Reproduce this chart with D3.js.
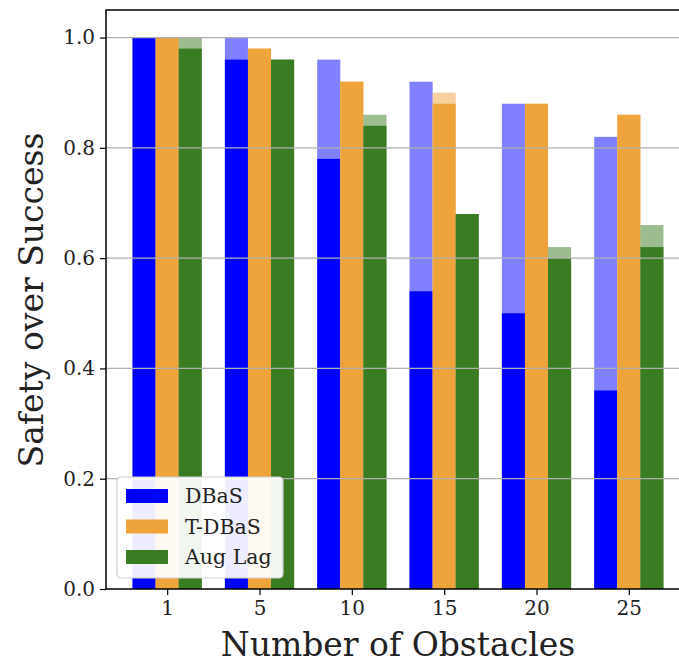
<!DOCTYPE html>
<html>
<head>
<meta charset="utf-8">
<script src="https://cdn.jsdelivr.net/npm/d3@7"></script>
<style>
  body { margin: 0; background: #fff; }
  svg { display: block; font-family: 'DejaVu Serif', serif; }
</style>
</head>
<body>
<svg width="679" height="663"></svg>
<script>
const obstacles = ['1', '5', '10', '15', '20', '25'];
const seriesNames = ['DBaS', 'T-DBaS', 'Aug Lag'];
const seriesColors = ['#0000ff', '#efa43b', '#3a7c22'];
// solid bars (safety) and faded bars (success) per series
const dbasSafe = [1.0, 0.96, 0.78, 0.54, 0.50, 0.36];
const dbasSucc = [1.0, 1.0, 0.96, 0.92, 0.88, 0.82];
const tdbasSafe = [1.0, 0.98, 0.92, 0.88, 0.88, 0.86];
const tdbasSucc = [1.0, 0.98, 0.92, 0.90, 0.88, 0.86];
const augSafe = [0.98, 0.96, 0.84, 0.68, 0.60, 0.62];
const augSucc = [1.0, 0.96, 0.86, 0.68, 0.62, 0.66];
const yTicks = [0.0, 0.2, 0.4, 0.6, 0.8, 1.0];

const safe = [dbasSafe, tdbasSafe, augSafe];
const succ = [dbasSucc, tdbasSucc, augSucc];

const svg = d3.select('svg');
const margin = { left: 106, top: 10, bottom: 589 };
const plotRight = 690; // right spine falls just outside the frame

const x = d3.scaleLinear().domain([-0.6625, 5.6625]).range([margin.left, plotRight]);
const y = d3.scaleLinear().domain([0, 1.05]).range([margin.bottom, margin.top]);
const barW = 0.25;

// bars
const g = svg.append('g');
seriesNames.forEach((name, s) => {
    const off = (s - 1) * barW;
    g.selectAll('rect.succ' + s)
        .data(succ[s])
        .join('rect')
        .attr('x', (d, i) => x(i + off - barW / 2))
        .attr('width', x(barW) - x(0))
        .attr('y', d => y(d))
        .attr('height', d => y(0) - y(d))
        .attr('fill', seriesColors[s])
        .attr('opacity', 0.5);
    g.selectAll('rect.safe' + s)
        .data(safe[s])
        .join('rect')
        .attr('x', (d, i) => x(i + off - barW / 2))
        .attr('width', x(barW) - x(0))
        .attr('y', d => y(d))
        .attr('height', d => y(0) - y(d))
        .attr('fill', seriesColors[s]);
});

// grid lines on top of bars
svg.append('g')
    .selectAll('line')
    .data(yTicks.filter(t => t > 0))
    .join('line')
    .attr('x1', margin.left)
    .attr('x2', plotRight)
    .attr('y1', d => y(d))
    .attr('y2', d => y(d))
    .attr('stroke', '#b0b0b0')
    .attr('stroke-width', 1.2);

// axes
const yAxis = svg.append('g')
    .attr('transform', `translate(${margin.left},0)`)
    .call(d3.axisLeft(y).tickValues(yTicks).tickFormat(d3.format('.1f')).tickSize(6).tickPadding(5));
const xAxis = svg.append('g')
    .attr('transform', `translate(0,${margin.bottom})`)
    .call(d3.axisBottom(x).tickValues(d3.range(obstacles.length)).tickFormat(i => obstacles[i]).tickSize(6).tickPadding(6));
[xAxis, yAxis].forEach(a => {
    a.select('.domain').remove();
    a.selectAll('text').attr('font-family', 'DejaVu Serif').attr('font-size', 20).attr('fill', '#222');
    a.selectAll('line').attr('stroke', '#000').attr('stroke-width', 1.2);
});

// spines
svg.append('rect')
    .attr('x', margin.left)
    .attr('y', margin.top)
    .attr('width', plotRight - margin.left)
    .attr('height', margin.bottom - margin.top)
    .attr('fill', 'none')
    .attr('stroke', '#000')
    .attr('stroke-width', 1.5);

// axis labels
svg.append('text')
    .attr('x', 398)
    .attr('y', 656)
    .attr('text-anchor', 'middle')
    .attr('font-size', 33)
    .attr('fill', '#222')
    .text('Number of Obstacles');
svg.append('text')
    .attr('transform', 'translate(43,300) rotate(-90)')
    .attr('text-anchor', 'middle')
    .attr('font-size', 33)
    .attr('fill', '#222')
    .text('Safety over Success');

// legend
const legend = svg.append('g').attr('transform', 'translate(117,477)');
legend.append('rect')
    .attr('width', 166)
    .attr('height', 101)
    .attr('rx', 4)
    .attr('fill', 'rgba(255,255,255,0.93)')
    .attr('stroke', '#d0d0d0')
    .attr('stroke-width', 1.2);
seriesNames.forEach((name, s) => {
    const row = legend.append('g').attr('transform', `translate(9,${12 + s * 30.5})`);
    row.append('rect')
        .attr('width', 42)
        .attr('height', 14)
        .attr('fill', seriesColors[s]);
    row.append('text')
        .attr('x', 59)
        .attr('y', 7)
        .attr('dy', '0.35em')
        .attr('font-size', 20.5)
        .attr('fill', '#222')
        .text(name);
});
</script>
</body>
</html>
